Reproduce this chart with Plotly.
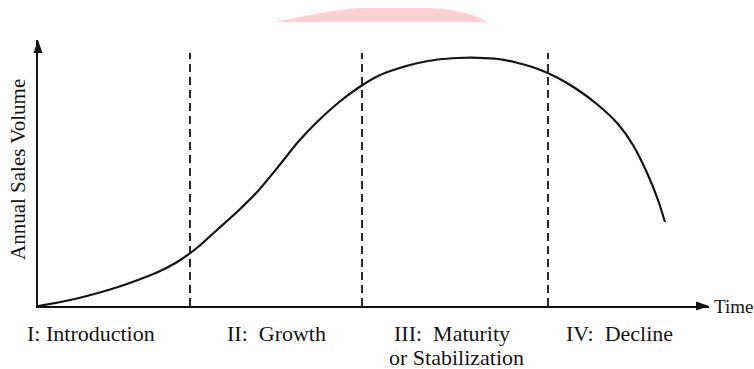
import plotly.graph_objects as go

# ---- data (time units 0-100, sales volume units 0-100) ----
curve_time = [0, 2.98, 5.96, 8.94, 11.92, 14.90, 17.88, 20.86, 23.85, 26.83, 29.81,
              32.79, 35.77, 38.75, 41.73, 44.71, 47.69, 50.67, 53.65, 56.63, 59.61,
              62.59, 65.57, 68.55, 71.54, 74.52, 77.50, 80.48, 83.46, 86.44, 88.67,
              90.91, 92.40, 93.44]
curve_sales = [0, 1.32, 2.93, 4.89, 7.14, 9.77, 12.78, 16.73, 22.18, 28.95, 35.71,
               43.23, 52.26, 61.65, 69.55, 76.32, 81.95, 86.47, 89.29, 91.35, 92.67,
               93.23, 93.31, 92.86, 91.35, 89.10, 85.71, 81.20, 75.56, 68.42, 60.53,
               49.25, 39.85, 31.58]
stage_bounds = [22.65, 48.29, 76.01]
stage_bound_top = 95.1
stage_labels = ["I: Introduction", "II:\u00a0 Growth", "III:\u00a0 Maturity", "or Stabilization", "IV:\u00a0 Decline"]
stage_label_x = [7.9, 35.47, 61.7, 62.3, 86.6]
stage_label_row = [0, 0, 0, 1, 0]
x_title = "Time"
y_title = "Annual Sales Volume"

W, H = 754, 369
ML, MR, MT, MB = 38, 45, 40, 63
PW, PH = W - ML - MR, H - MT - MB
FONT = "Liberation Serif, Times New Roman, Tinos, DejaVu Serif, serif"
INK = "#141414"


def px_x(p):  # pixel -> paper (decoration only)
    return (p - ML) / PW


def px_y(p):
    return (H - MB - p) / PH


fig = go.Figure()
fig.add_trace(go.Scatter(x=curve_time, y=curve_sales, mode="lines",
                         line=dict(color=INK, width=2.2, shape="spline", smoothing=0.7),
                         hoverinfo="skip", showlegend=False, cliponaxis=False))

shapes = []
for b in stage_bounds:
    shapes.append(dict(type="line", xref="x", yref="y", x0=b, x1=b, y0=0, y1=stage_bound_top,
                       line=dict(color=INK, width=1.8, dash="8px,5px")))

# arrow heads
ah_len, ah_half = 13, 4.5
shapes.append(dict(type="path", xref="paper", yref="paper",
                   path=f"M {px_x(ML)} 1 L {px_x(ML - ah_half)} {1 - ah_len / PH} "
                        f"L {px_x(ML + ah_half)} {1 - ah_len / PH} Z",
                   fillcolor=INK, line=dict(width=0)))
shapes.append(dict(type="path", xref="paper", yref="paper",
                   path=f"M 1 0 L {1 - ah_len / PW} {ah_half / PH} L {1 - ah_len / PW} {-ah_half / PH} Z",
                   fillcolor=INK, line=dict(width=0)))

# faint pink blob at top (artifact in reference)
blob = [(275, 22), (300, 17), (320, 13), (340, 10), (360, 8), (430, 8), (450, 10),
        (465, 13), (478, 17), (487, 22)]
path = "M " + " L ".join(f"{px_x(a)} {px_y(b)}" for a, b in blob) + " Z"
shapes.append(dict(type="path", xref="paper", yref="paper", path=path,
                   fillcolor="#ffd0d3", line=dict(width=0), layer="below"))

annotations = []
row_y = [334, 357]
for t, x, r in zip(stage_labels, stage_label_x, stage_label_row):
    annotations.append(dict(text=t, x=x, xref="x", y=px_y(row_y[r]), yref="paper",
                            xanchor="center", yanchor="middle", showarrow=False,
                            font=dict(family=FONT, size=22, color=INK)))
annotations.append(dict(text=x_title, x=px_x(712), xref="paper", y=px_y(306), yref="paper",
                        xanchor="left", yanchor="middle", showarrow=False,
                        font=dict(family=FONT, size=19, color=INK)))
annotations.append(dict(text=y_title, x=px_x(18), xref="paper", y=px_y(170), yref="paper",
                        xanchor="center", yanchor="middle", showarrow=False, textangle=-90,
                        font=dict(family=FONT, size=21, color=INK)))

axis_common = dict(showgrid=False, zeroline=False, showticklabels=False, ticks="",
                   showline=True, linecolor=INK, linewidth=2, fixedrange=True)
fig.update_layout(
    width=W, height=H, autosize=False,
    margin=dict(l=ML, r=MR, t=MT, b=MB, pad=0),
    paper_bgcolor="white", plot_bgcolor="white",
    font=dict(family=FONT),
    xaxis=dict(range=[0, 100], **axis_common),
    yaxis=dict(range=[0, 100], **axis_common),
    shapes=shapes, annotations=annotations, showlegend=False,
)
fig.write_html("out.html", config={"displayModeBar": False},
               post_script="document.body.style.margin='0';document.body.style.overflow='hidden';")
